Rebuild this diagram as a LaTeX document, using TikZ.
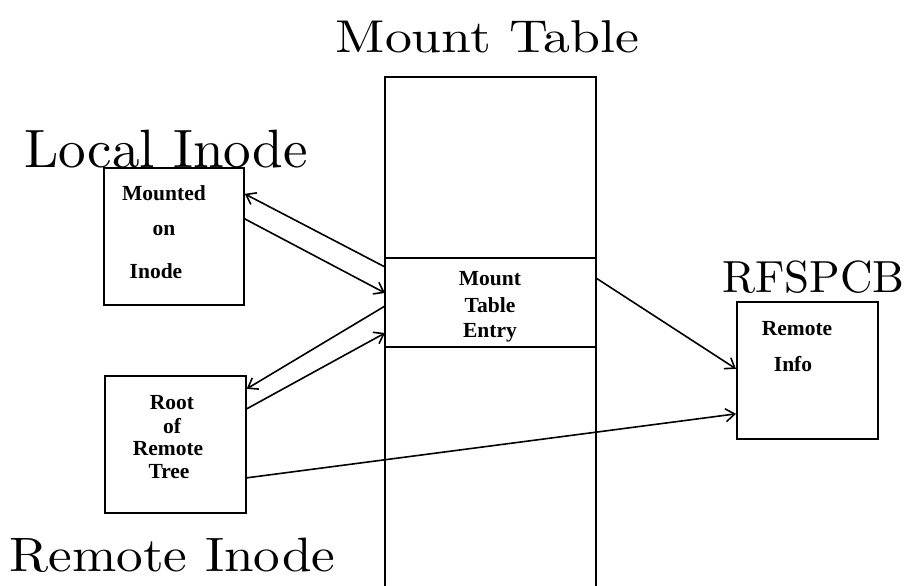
\documentclass[tikz,border=0pt]{standalone}
\usepackage{fontspec}
\newfontfamily\boxfont{Liberation Serif}
\newfontfamily\titlefont{lmroman10-regular.otf}
\usetikzlibrary{arrows.meta}
\tikzset{
  box/.style={draw, line width=1.7pt, minimum width=0pt, minimum height=0pt, inner sep=0pt},
  rule/.style={line width=1.7pt},
  link/.style={line width=1.6pt, -{Straight Barb[length=9pt,width=13pt,line width=1.6pt]}},
  title/.style={anchor=base, inner sep=0pt, font=\titlefont},
  label/.style={anchor=base, inner sep=0pt, font=\boxfont\bfseries\fontsize{21.5}{24}\selectfont},
}
\begin{document}
\begin{tikzpicture}[x=1pt, y=-1pt]
\useasboundingbox (0,0) rectangle (914,586);

% Mount table column (open at the bottom)
\coordinate (tbl-bl) at (385,586);
\coordinate (tbl-tl) at (385,77);
\coordinate (tbl-tr) at (596,77);
\coordinate (tbl-br) at (596,586);
\draw[rule] (tbl-bl) -- (tbl-tl) -- (tbl-tr) -- (tbl-br);

% Mount table entry: a slot of the column, bounded by two rules
\node[inner sep=0pt, outer sep=0pt, minimum width=211pt, minimum height=89pt, anchor=north west] (entry) at (385,258) {};
\draw[rule] (entry.north west) -- (entry.north east);
\draw[rule] (entry.south west) -- (entry.south east);

% Local inode, remote inode and RFSPCB boxes
\node[box, minimum width=140pt, minimum height=137pt, anchor=north west] (local) at (103,167) {};
\node[box, minimum width=141pt, minimum height=137pt, anchor=north west] (remote) at (104,375) {};
\node[box, minimum width=141pt, minimum height=137pt, anchor=north west] (rfs) at (736,301) {};

% Titles
\node[title] (t-mount) at (487.5,53) {\fontsize{46}{52}\selectfont\scalebox{1.17}[1]{Mount Table}};
\node[title] (t-local) at (166,167) {\fontsize{54}{60}\selectfont\scalebox{1.02}[1]{Local Inode}};
\node[title] (t-rfs) at (813.5,292) {\fontsize{45}{52}\selectfont RFSPCB};
\node[title] (t-remote) at (172.5,571) {\fontsize{48.3}{54}\selectfont\scalebox{1.1}[1]{Remote Inode}};

% Box contents
\node[label] (l1) at (164,200) {Mounted};
\node[label] (l2) at (164,235) {on};
\node[label] (l3) at (156,278) {Inode};

\node[label] (e1) at (490,285) {Mount};
\node[label] (e2) at (490,312) {Table};
\node[label] (e3) at (490,337) {Entry};

\node[label] (r1) at (172,409) {Root};
\node[label] (r2) at (172,433) {of};
\node[label] (r3) at (168,455) {Remote};
\node[label] (r4) at (169,478) {Tree};

\node[label] (i1) at (797,335) {Remote};
\node[label] (i2) at (793,371) {Info};

% Connectors
\draw[link] ([yshift=35.5pt]entry.west) -- ([yshift=42.5pt]local.east);
\draw[link] ([yshift=17.5pt]local.east) -- ([yshift=9.5pt]entry.west);
\draw[link] ([yshift=-3.5pt]entry.west) -- ([yshift=55.5pt]remote.east);
\draw[link] ([yshift=35.5pt]remote.east) -- ([yshift=-30.5pt]entry.west);
\draw[link] ([yshift=24.5pt]entry.east) -- ([yshift=1.5pt]rfs.west);
\draw[link] ([yshift=-33.5pt]remote.east) -- ([yshift=-43.5pt]rfs.west);
\end{tikzpicture}
\end{document}
